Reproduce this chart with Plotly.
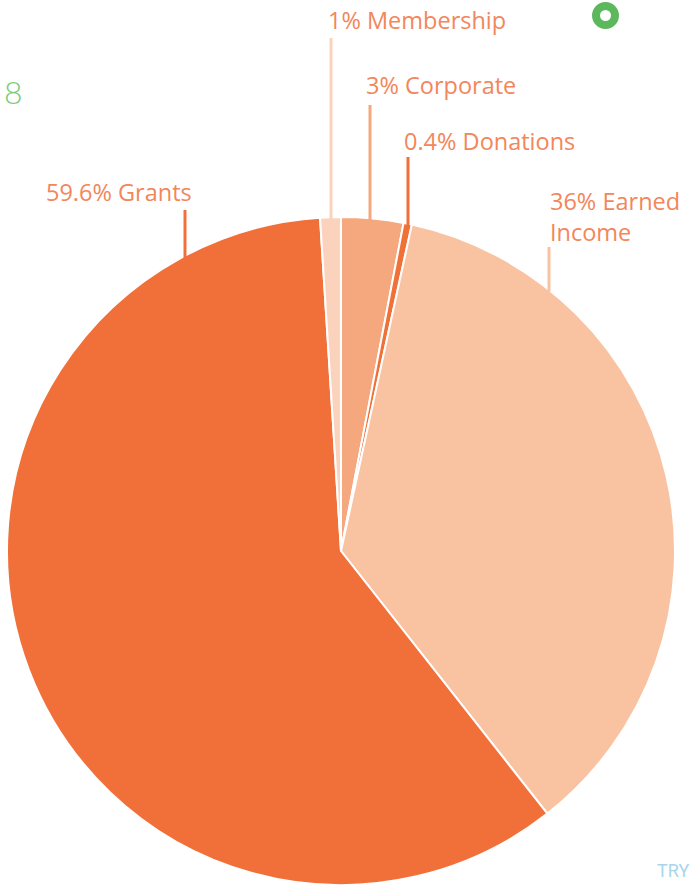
import math
import plotly.graph_objects as go

# ---- data ----
categories = ["Corporate", "Donations", "Earned Income", "Grants", "Membership"]
values = [3, 0.4, 36, 59.6, 1]
label_texts = ["3% Corporate", "0.4% Donations", "36% Earned<br>Income", "59.6% Grants", "1% Membership"]
colors = ["#F5A77D", "#F07038", "#F9C3A2", "#F1703A", "#FBD3BC"]

W, H = 692, 885
# pie geometry (pixels)
CX, CY, R = 341, 551, 334

def px(x):
    return x / W

def py(y):
    return 1 - y / H

fig = go.Figure()
fig.add_trace(go.Pie(
    labels=categories,
    values=values,
    sort=False,
    direction="clockwise",
    rotation=0,
    marker=dict(colors=colors, line=dict(color="white", width=2)),
    textinfo="none",
    hoverinfo="label+percent",
    showlegend=False,
    domain=dict(x=[px(CX - R), px(CX + R)], y=[max(py(CY + R), 0), py(CY - R)]),
))

# label placement (layout): leader x, label text y (center), text offset from leader
label_layout = {
    "Corporate":     dict(lx=370, ty=85,  dx=-6, side="left"),
    "Donations":     dict(lx=408, ty=141, dx=-6, side="left"),
    "Earned Income": dict(lx=549, ty=217, dx=-1, side="left"),
    "Grants":        dict(lx=185, ty=192, dx=9,  side="right"),
    "Membership":    dict(lx=331, ty=20,  dx=-5, side="left"),
}
line_top = {"Corporate": 105, "Donations": 157, "Earned Income": 247, "Grants": 210, "Membership": 38}

text_color = "#F3865A"
shapes = []
annotations = []
for cat, txt, col in zip(categories, label_texts, colors):
    L = label_layout[cat]
    lx = L["lx"]
    # bottom of leader touches the pie edge
    ybot = CY - math.sqrt(max(R * R - (lx - CX) ** 2, 0)) + 2
    shapes.append(dict(type="line", xref="paper", yref="paper",
                       x0=px(lx), x1=px(lx), y0=py(line_top[cat]), y1=py(ybot),
                       line=dict(color=col, width=3)))
    annotations.append(dict(text=txt, x=px(lx + L["dx"]), y=py(L["ty"]),
                            xref="paper", yref="paper", align="left",
                            xanchor=L["side"], yanchor="middle", showarrow=False,
                            font=dict(family="Open Sans", size=23.5, color=text_color)))

# decorative extras
annotations.append(dict(text="8", x=px(2), y=py(92), xref="paper", yref="paper",
                        xanchor="left", yanchor="middle", showarrow=False,
                        font=dict(family="Lato", size=32, color="#7CCB7C", weight=300)))
annotations.append(dict(text="TRY", x=px(691), y=py(870), xref="paper", yref="paper",
                        xanchor="right", yanchor="middle", showarrow=False,
                        font=dict(family="Roboto", size=18, color="#A9D5EC")))
shapes.append(dict(type="circle", xref="paper", yref="paper",
                   x0=px(596), x1=px(615), y0=py(6), y1=py(25),
                   line=dict(color="#5DB85D", width=8), fillcolor="white"))

fig.update_layout(
    width=W, height=H,
    margin=dict(l=0, r=0, t=0, b=0),
    paper_bgcolor="white", plot_bgcolor="white",
    shapes=shapes, annotations=annotations,
)
fig.write_html("out.html", config={"displayModeBar": False},
               post_script="document.body.style.margin='0px';document.body.style.overflow='hidden';")
